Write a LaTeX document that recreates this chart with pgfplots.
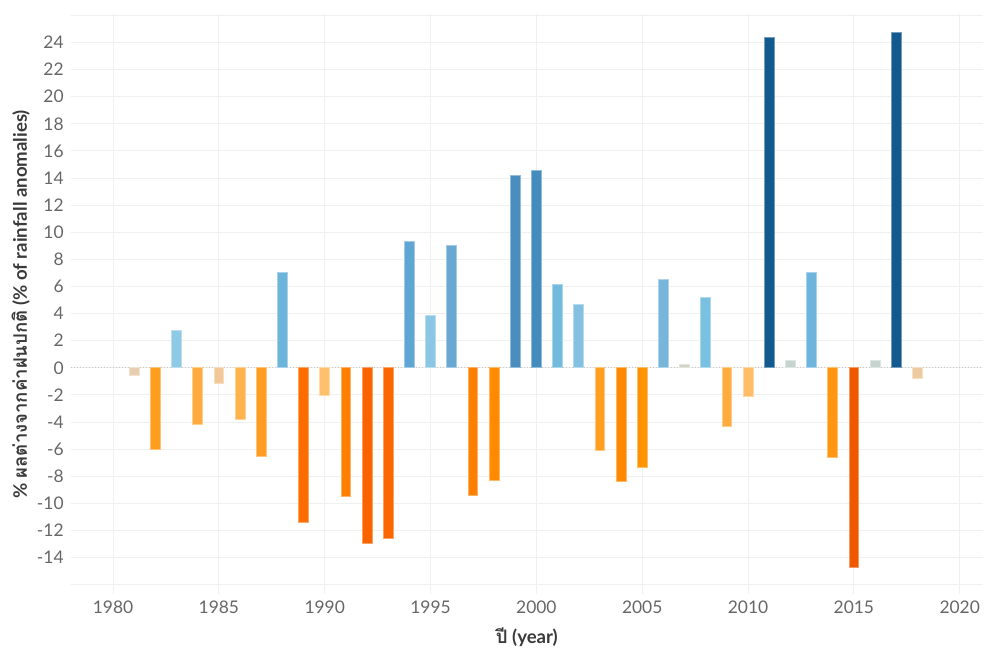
\documentclass[border=0pt]{standalone}
\usepackage{fontspec}
\setmainfont{Lato}
\newfontfamily\thaifont[Script=Thai]{Loma}
\usepackage{pgfplots}
\pgfplotsset{compat=1.18}
\usetikzlibrary{calc}

\definecolor{tickgrey}{HTML}{666666}
\definecolor{labgrey}{HTML}{3A3A3A}
\definecolor{gridc}{HTML}{F0F0F0}
\definecolor{zeroc}{HTML}{C8C8C8}

% one colour per year, Tableau orange-blue diverging
\definecolor{c1981}{HTML}{E9CDB0}
\definecolor{c1982}{HTML}{FF9D1F}
\definecolor{c1983}{HTML}{8ECAE6}
\definecolor{c1984}{HTML}{FFAB3F}
\definecolor{c1985}{HTML}{F3C898}
\definecolor{c1986}{HTML}{FFB34C}
\definecolor{c1987}{HTML}{FF9C21}
\definecolor{c1988}{HTML}{6CB4DA}
\definecolor{c1989}{HTML}{FC6C00}
\definecolor{c1990}{HTML}{FFC06D}
\definecolor{c1991}{HTML}{FF7F00}
\definecolor{c1992}{HTML}{F96400}
\definecolor{c1993}{HTML}{FA6600}
\definecolor{c1994}{HTML}{60A6D4}
\definecolor{c1995}{HTML}{8AC7E5}
\definecolor{c1996}{HTML}{68A8D3}
\definecolor{c1997}{HTML}{FF7F00}
\definecolor{c1998}{HTML}{FF8A00}
\definecolor{c1999}{HTML}{4C8DBF}
\definecolor{c2000}{HTML}{448CBE}
\definecolor{c2001}{HTML}{72BBDD}
\definecolor{c2002}{HTML}{84C1E0}
\definecolor{c2003}{HTML}{FF9E20}
\definecolor{c2004}{HTML}{FF8800}
\definecolor{c2005}{HTML}{FF9300}
\definecolor{c2006}{HTML}{77B5DA}
\definecolor{c2007}{HTML}{D4D4C6}
\definecolor{c2008}{HTML}{7AC1E1}
\definecolor{c2009}{HTML}{FFAB3E}
\definecolor{c2010}{HTML}{FFBD68}
\definecolor{c2011}{HTML}{135A8F}
\definecolor{c2012}{HTML}{C6D4CF}
\definecolor{c2013}{HTML}{6DB5DC}
\definecolor{c2014}{HTML}{FF9612}
\definecolor{c2015}{HTML}{F05800}
\definecolor{c2016}{HTML}{C6D4CF}
\definecolor{c2017}{HTML}{125A8E}
\definecolor{c2018}{HTML}{ECCBA1}

% \yb{year}{value}: one bar in its own colour
\newcommand{\yb}[2]{\addplot[ybar, bar width=0.46, bar shift=0pt, fill=c#1, draw=c#1!60!white, line width=0.4pt] coordinates {(#1,#2)};}

\begin{document}
\begin{tikzpicture}
\begin{axis}[
  name=ax,
  scale only axis,
  width=456pt, height=290pt,
  xmin=1978, xmax=2021.1,
  ymin=-16.7, ymax=26.1,
  xtick={1980,1985,...,2020},
  xticklabels={1980,1985,1990,1995,2000,2005,2010,2015,2020},
  ytick={-16,-14,...,26},
  yticklabels={,-14,-12,-10,-8,-6,-4,-2,0,2,4,6,8,10,12,14,16,18,20,22,24,},
  extra y ticks={0},
  extra y tick labels={},
  extra y tick style={grid style={densely dotted, draw=zeroc, line width=0.5pt}},
  grid=major,
  grid style={draw=gridc, line width=0.5pt},
  axis line style={draw=none},
  major tick length=0pt,
  tick label style={text=tickgrey, font=\fontsize{8.7}{10}\selectfont},
  label style={text=labgrey, font=\fontsize{9.3}{11}\selectfont\bfseries},
  xlabel={{\thaifont\bfseries ปี} (year)},
  ylabel={\% {\thaifont\bfseries ผลต่างจากค่าฝนปกติ} (\% of rainfall anomalies)},
  ylabel style={at={(axis description cs:0,0.5)}, anchor=center, yshift=25pt},
  xlabel style={at={(axis description cs:0.5,0)}, anchor=center, yshift=-21.5pt},
  clip=false,
]
\yb{1981}{-0.55}
\yb{1982}{-6.0}
\yb{1983}{2.78}
\yb{1984}{-4.18}
\yb{1985}{-1.18}
\yb{1986}{-3.84}
\yb{1987}{-6.52}
\yb{1988}{7.03}
\yb{1989}{-11.44}
\yb{1990}{-2.02}
\yb{1991}{-9.52}
\yb{1992}{-12.99}
\yb{1993}{-12.57}
\yb{1994}{9.32}
\yb{1995}{3.86}
\yb{1996}{9.0}
\yb{1997}{-9.4}
\yb{1998}{-8.32}
\yb{1999}{14.21}
\yb{2000}{14.56}
\yb{2001}{6.17}
\yb{2002}{4.67}
\yb{2003}{-6.08}
\yb{2004}{-8.41}
\yb{2005}{-7.38}
\yb{2006}{6.52}
\yb{2007}{0.22}
\yb{2008}{5.22}
\yb{2009}{-4.35}
\yb{2010}{-2.11}
\yb{2011}{24.4}
\yb{2012}{0.52}
\yb{2013}{7.03}
\yb{2014}{-6.59}
\yb{2015}{-14.75}
\yb{2016}{0.55}
\yb{2017}{24.75}
\yb{2018}{-0.76}
\end{axis}
\pgfresetboundingbox
\path ($(ax.south west)+(-35.35pt,-29pt)$) rectangle ($(ax.north east)+(0.5pt,7pt)$);
\end{tikzpicture}
\end{document}
